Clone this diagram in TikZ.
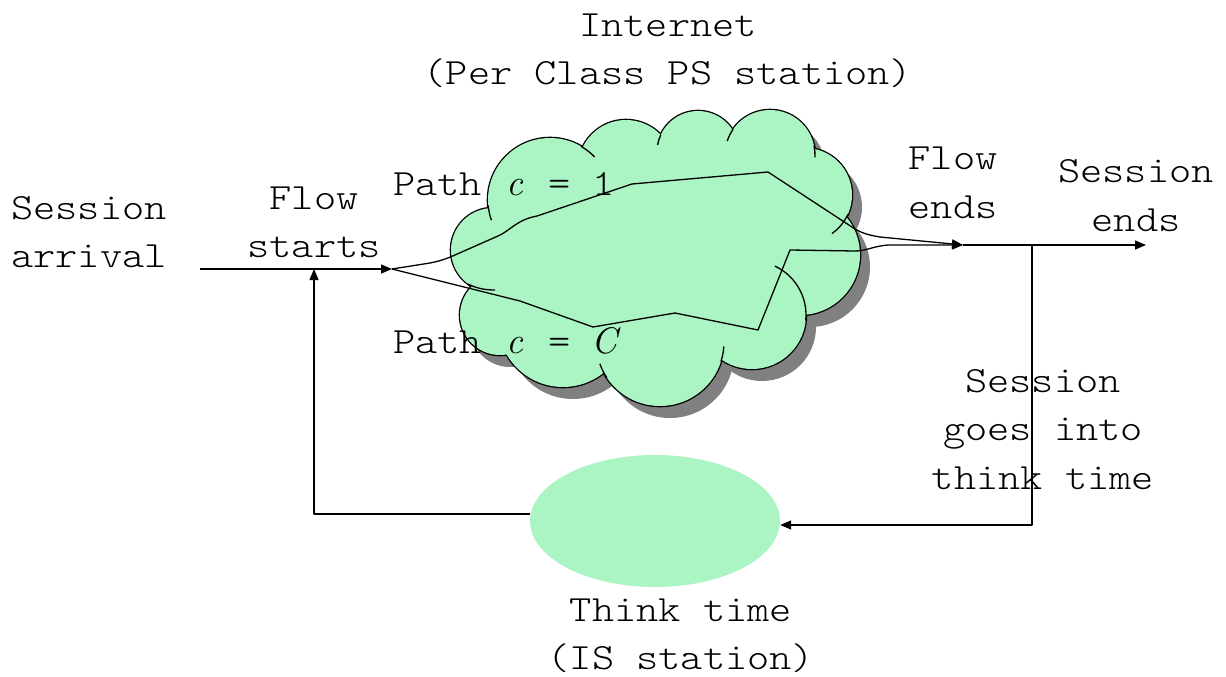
\documentclass[tikz,border=0pt]{standalone}
\usepackage{fontspec}
\usetikzlibrary{arrows.meta,shapes.geometric,calc}
\newfontfamily\lbfamily{lmmonolt10-regular.otf}[FakeStretch=1.143]
\newcommand\lbfont{\lbfamily\fontsize{37}{48.5}\selectfont}
\newcommand\mv[1]{\makebox[22.2pt][c]{\rmfamily\itshape #1}}
\definecolor{cloudgreen}{RGB}{170,245,195}
\definecolor{shadowgray}{RGB}{128,128,128}
\newcommand\bumplist{550/200/62,626/168/48,698/152/41,770/155/45,805/195/47,800/255/60,752/315/54,660/342/64,563/322/65,500/315/40,493/250/42}
\newcommand\cloudcore{(550,-200) -- (626,-168) -- (698,-152) -- (770,-155) -- (805,-195) -- (800,-255) -- (752,-315) -- (660,-342) -- (563,-322) -- (500,-315) -- (493,-250) -- cycle}
\newcommand\fragarc[5]{\draw[frag] (#1,-#2) ++(#4:#3) arc[start angle=#4,end angle=#5,radius=#3];}
\begin{document}
\begin{tikzpicture}[x=1pt,y=1pt,line join=round,
  conn/.style={line width=1.3pt},
  arr/.style={conn,-{Triangle[length=11pt,width=9pt]}},
  lbl/.style={font=\lbfont,align=center,inner sep=0pt},
  frag/.style={line width=1.3pt}]
\useasboundingbox (0,0) rectangle (1226,-677);
% cloud shadow
\begin{scope}[shift={(10,-12)}]
  \foreach \bx/\by/\br in \bumplist {\fill[shadowgray] (\bx,-\by) circle[radius=\br];}
  \fill[shadowgray] \cloudcore;
\end{scope}
% cloud outline (outer half of thick strokes) and fill
\foreach \bx/\by/\br in \bumplist {\draw[line width=2.6pt] (\bx,-\by) circle[radius=\br];}
\foreach \bx/\by/\br in \bumplist {\fill[cloudgreen] (\bx,-\by) circle[radius=\br];}
\fill[cloudgreen] \cloudcore;
% inner arc fragments of the cloud
\fragarc{550}{200}{62}{185}{199}
\fragarc{550}{200}{62}{44}{60}
\fragarc{698}{152}{41}{155}{170}
\fragarc{770}{155}{45}{145}{162}
\fragarc{770}{155}{45}{-3}{12}
\fragarc{805}{195}{47}{-24}{-55}
\fragarc{752}{315}{54}{65}{-6}
\fragarc{660}{342}{64}{-4}{-18}
\fragarc{660}{342}{64}{200}{214}
\draw[frag] (468,-284) .. controls (476,-288) and (484,-290) .. (495,-290);

% think-time station
\node[ellipse,fill=cloudgreen,minimum width=250pt,minimum height=132pt,inner sep=0pt] (think) at (655,-521) {};

% junction points
\coordinate (sa) at (200,-269);
\coordinate (split) at (392,-269);
\coordinate (fs) at (314,-269);
\coordinate (fe) at (963,-245);
\coordinate (se) at (1146,-245);
\coordinate (jn) at (1032,-245);

% connectors
\draw[arr] (sa) -- (split);
\draw[arr] ($(think.west)+(0,7)$) -| (fs);
\draw[arr] (split) -- (430,-263) .. controls (440,-261) and (446,-259) .. (455,-255)
  -- (498,-236) .. controls (510,-231) and (516,-220) .. (537,-216)
  -- (632,-184) -- (768,-172) -- (855,-229) .. controls (862,-233) and (868,-235) .. (880,-237) -- (fe);
\draw[arr] (split) -- (520,-301) -- (593,-327) -- (675,-313) -- (758,-330) -- (790,-250)
  -- (855,-251) .. controls (866,-251) and (874,-246) .. (888,-245) -- (fe);
\draw[arr] (fe) -- (se);
\draw[arr] (jn) |- ($(think.east)+(0,-4)$);

% labels
\node[lbl] (inet) at (668,-50.7) {Internet\\(Per Class PS station)};
\node[lbl] (sarr) at (89,-232) {Session\\arrival};
\node[lbl] (fst) at (314,-222.5) {Flow\\starts};
\node[lbl,anchor=base west] (p1) at (393,-195) {Path \mv{c} = 1};
\node[lbl,anchor=base west] (pC) at (393,-353) {Path \mv{c} = \mv{C}};
\node[lbl] (fend) at (953,-183) {Flow\\ends};
\node[lbl] (send) at (1136,-195.5) {Session\\ends};
\node[lbl] (gi) at (1043,-429.5) {Session\\goes into\\think time};
\node[lbl] (tt) at (681,-636) {Think time\\(IS station)};
\end{tikzpicture}
\end{document}
